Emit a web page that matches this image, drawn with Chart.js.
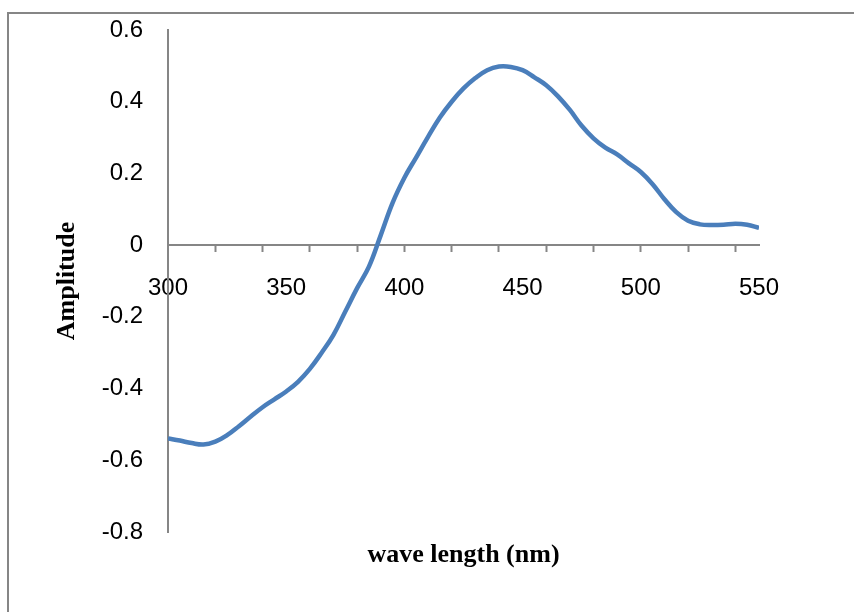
<!DOCTYPE html>
<html lang="en">
<head>
    <meta charset="UTF-8">
    <title>Amplitude vs wave length</title>
    <script src="https://cdn.jsdelivr.net/npm/chart.js"></script>
    <style>
        body { margin: 0; background-color: white; }
        .wrap { position: relative; width: 854px; height: 612px; overflow: hidden; }
        .frame { position: absolute; left: 7px; top: 12px; width: 900px; height: 700px; border-top: 2px solid #868686; border-left: 2px solid #868686; }
        canvas { position: absolute; left: 0; top: 0; }
    </style>
</head>
<body>
    <div class="wrap">
        <div class="frame"></div>
        <canvas id="chart" width="854" height="612"></canvas>
    </div>

    <script>
        // spectrum, every 5 nm
        const wavelengths = [300, 305, 310, 315, 320, 325, 330, 335, 340, 345,
                             350, 355, 360, 365, 370, 375, 380, 385, 390, 395,
                             400, 405, 410, 415, 420, 425, 430, 435, 440, 445,
                             450, 455, 460, 465, 470, 475, 480, 485, 490, 495,
                             500, 505, 510, 515, 520, 525, 530, 535, 540, 545, 550];
        const amplitude = [-0.539, -0.545, -0.552, -0.556, -0.548, -0.530, -0.505, -0.478, -0.452, -0.430,
                           -0.408, -0.381, -0.345, -0.300, -0.250, -0.185, -0.120, -0.060, 0.028, 0.118,
                           0.188, 0.245, 0.302, 0.356, 0.400, 0.437, 0.466, 0.488, 0.498, 0.497,
                           0.488, 0.468, 0.446, 0.415, 0.377, 0.333, 0.298, 0.272, 0.253, 0.228,
                           0.204, 0.170, 0.128, 0.092, 0.068, 0.058, 0.056, 0.057, 0.060, 0.057, 0.048];

        const xLabelTicks = [300, 350, 400, 450, 500, 550];
        const xMarkTicks = [320, 340, 360, 380, 400, 420, 440, 460, 480, 500, 520, 540];
        const yTicks = [0.6, 0.4, 0.2, 0, -0.2, -0.4, -0.6, -0.8];

        const tickFont = { family: "'Liberation Sans Narrow', 'Arial Narrow', 'Liberation Sans', Arial", size: 24 };
        const titleFont = { family: "'Liberation Serif', 'Times New Roman', serif", size: 26, weight: 'bold' };
        const axisGray = '#868686';

        const allXTicks = [...new Set([...xLabelTicks, ...xMarkTicks])].sort((a, b) => a - b);

        new Chart(document.getElementById('chart'), {
            type: 'line',
            data: {
                datasets: [{
                    data: wavelengths.map((w, i) => ({ x: w, y: amplitude[i] })),
                    borderColor: '#4A7EBB',
                    borderWidth: 4.5,
                    pointRadius: 0,
                    tension: 0.4,
                    fill: false
                }]
            },
            options: {
                responsive: false,
                animation: false,
                devicePixelRatio: 1,
                layout: { padding: { left: 0, top: 30, right: 95, bottom: 80 } },
                plugins: { legend: { display: false }, tooltip: { enabled: false } },
                scales: {
                    x: {
                        type: 'linear',
                        position: { y: 0 },
                        min: 300,
                        max: 550,
                        afterBuildTicks: (scale) => { scale.ticks = allXTicks.map(v => ({ value: v })); },
                        afterFit: (scale) => {
                            scale.height = 326;
                            scale.paddingLeft = 0;
                            scale.paddingRight = 0;
                        },
                        ticks: {
                            autoSkip: false,
                            maxRotation: 0,
                            color: '#000',
                            font: tickFont,
                            padding: 23,
                            callback: (v) => xLabelTicks.includes(v) ? String(v) : ''
                        },
                        grid: {
                            drawOnChartArea: false,
                            drawTicks: true,
                            tickLength: 6,
                            tickWidth: 2,
                            tickColor: (ctx) => ctx.tick && xMarkTicks.includes(ctx.tick.value) ? axisGray : 'rgba(0,0,0,0)'
                        },
                        border: { display: true, color: axisGray, width: 2 },
                        title: { display: true, text: 'wave length (nm)', color: '#000', font: titleFont, padding: 0 }
                    },
                    y: {
                        type: 'linear',
                        position: 'left',
                        min: -0.8,
                        max: 0.6,
                        afterBuildTicks: (scale) => { scale.ticks = yTicks.map(v => ({ value: v })); },
                        afterFit: (scale) => {
                            scale.width = 168;
                            scale.paddingTop = 0;
                            scale.paddingBottom = 0;
                        },
                        ticks: {
                            color: '#000',
                            font: tickFont,
                            padding: 25,
                            callback: (v) => String(Math.round(v * 10) / 10)
                        },
                        grid: { drawOnChartArea: false, drawTicks: false },
                        border: { display: true, color: axisGray, width: 2 },
                        title: { display: true, text: 'Amplitude', color: '#000', font: titleFont, padding: { top: 52, bottom: 0 } }
                    }
                }
            }
        });
    </script>
</body>
</html>
